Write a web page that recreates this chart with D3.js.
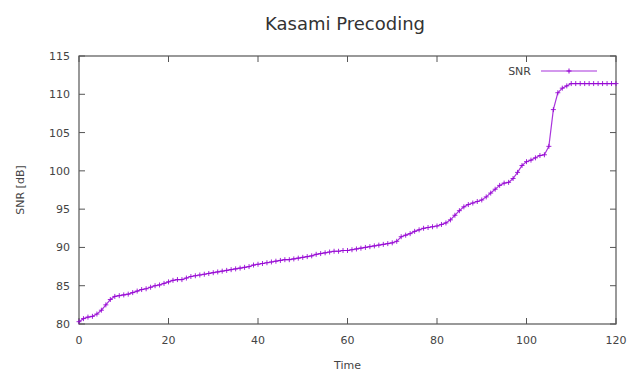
<!DOCTYPE html>
<html><head><meta charset="utf-8">
<script src="https://cdn.jsdelivr.net/npm/d3@7"></script>
<style>body{margin:0;background:#fff}svg{display:block}text{font-family:"DejaVu Sans",sans-serif;}</style>
</head><body><svg id="c" width="630" height="373"></svg>
<script>
const title = "Kasami Precoding";
const xLabel = "Time";
const yLabel = "SNR [dB]";
const seriesName = "SNR";
const xTicks = [0,20,40,60,80,100,120];
const yTicks = [80,85,90,95,100,105,110,115];
const snr = [80.3,80.7,80.9,81.0,81.3,81.8,82.5,83.2,83.6,83.7,
83.8,83.9,84.1,84.3,84.5,84.6,84.8,85.0,85.1,85.3,
85.5,85.7,85.8,85.8,86.0,86.2,86.3,86.4,86.5,86.6,
86.7,86.8,86.9,87.0,87.1,87.2,87.3,87.4,87.5,87.7,
87.8,87.9,88.0,88.1,88.2,88.3,88.4,88.4,88.5,88.6,
88.7,88.8,88.9,89.1,89.2,89.3,89.4,89.5,89.5,89.6,
89.6,89.7,89.8,89.9,90.0,90.1,90.2,90.3,90.4,90.5,
90.6,90.8,91.4,91.6,91.8,92.1,92.3,92.5,92.6,92.7,
92.8,93.0,93.2,93.6,94.2,94.8,95.3,95.6,95.8,96.0,
96.2,96.6,97.1,97.6,98.1,98.4,98.5,99.0,99.8,100.7,
101.2,101.4,101.7,102.0,102.1,103.2,108.0,110.2,110.8,111.1,
111.4,111.4,111.4,111.4,111.4,111.4,111.4,111.4,111.4,111.4,111.4];
const times = snr.map((_, i) => i);

const svg = d3.select("#c");
const L = 79, R = 616, T = 56, B = 324;
const x = d3.scaleLinear().domain([0,120]).range([L,R]);
const y = d3.scaleLinear().domain([80,115]).range([B,T]);
const color = "#9400d3";
const axisColor = "#555";
const textColor = "#444";

const tl = 6;
const g = svg.append("g").attr("stroke", axisColor).attr("stroke-width", 1);
xTicks.forEach(v => {
  g.append("line").attr("x1", x(v)).attr("x2", x(v)).attr("y1", B).attr("y2", B - tl);
  g.append("line").attr("x1", x(v)).attr("x2", x(v)).attr("y1", T).attr("y2", T + tl);
});
yTicks.forEach(v => {
  g.append("line").attr("x1", L).attr("x2", L + tl).attr("y1", y(v)).attr("y2", y(v));
  g.append("line").attr("x1", R).attr("x2", R - tl).attr("y1", y(v)).attr("y2", y(v));
});
svg.append("rect").attr("x", L).attr("y", T).attr("width", R - L).attr("height", B - T)
  .attr("fill", "none").attr("stroke", axisColor).attr("stroke-width", 1.2);

svg.selectAll(".xt").data(xTicks).enter().append("text")
  .attr("x", d => x(d)).attr("y", B + 20).attr("text-anchor", "middle")
  .attr("font-size", 11).attr("fill", textColor).text(d => d);
svg.selectAll(".yt").data(yTicks).enter().append("text")
  .attr("x", L - 9).attr("y", d => y(d) + 4).attr("text-anchor", "end")
  .attr("font-size", 11).attr("fill", textColor).text(d => d);

svg.append("text").attr("x", 345).attr("y", 30).attr("text-anchor", "middle")
  .attr("font-size", 18).attr("fill", "#333").text(title);
svg.append("text").attr("x", (L + R) / 2).attr("y", 369).attr("text-anchor", "middle")
  .attr("font-size", 11).attr("fill", textColor).text(xLabel);
svg.append("text").attr("transform", `translate(24,${(T + B) / 2}) rotate(-90)`)
  .attr("text-anchor", "middle").attr("font-size", 11).attr("fill", textColor).text(yLabel);

const line = d3.line().x((d, i) => x(times[i])).y(d => y(d));
svg.append("path").datum(snr).attr("d", line).attr("fill", "none")
  .attr("stroke", color).attr("stroke-width", 1.2).attr("opacity", 0.8);
const pts = svg.append("g").attr("stroke", color).attr("stroke-width", 1).attr("opacity", 0.85);
const ps = 2.5;
snr.forEach((v, i) => {
  const cx = x(times[i]), cy = y(v);
  pts.append("line").attr("x1", cx - ps).attr("x2", cx + ps).attr("y1", cy).attr("y2", cy);
  pts.append("line").attr("x1", cx).attr("x2", cx).attr("y1", cy - ps).attr("y2", cy + ps);
});

const ly = 71;
svg.append("text").attr("x", 531).attr("y", ly + 4).attr("text-anchor", "end")
  .attr("font-size", 11).attr("fill", textColor).text(seriesName);
svg.append("line").attr("x1", 541).attr("x2", 597).attr("y1", ly).attr("y2", ly)
  .attr("stroke", color).attr("stroke-width", 1.2).attr("opacity", 0.8);
svg.append("line").attr("x1", 569 - ps).attr("x2", 569 + ps).attr("y1", ly).attr("y2", ly).attr("stroke", color);
svg.append("line").attr("x1", 569).attr("x2", 569).attr("y1", ly - ps).attr("y2", ly + ps).attr("stroke", color);
</script></body></html>
